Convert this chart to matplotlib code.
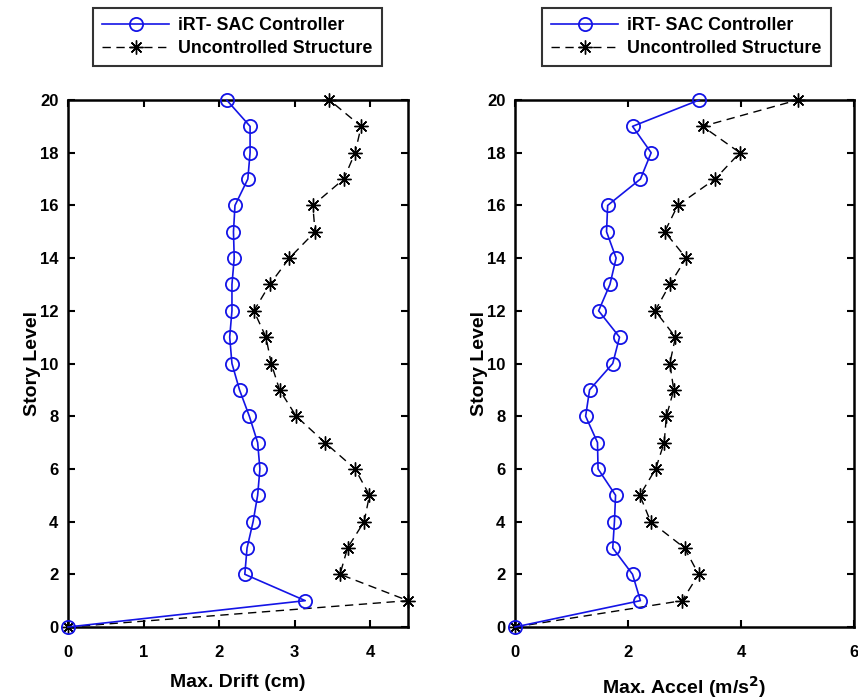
import matplotlib
matplotlib.use("Agg")
import matplotlib.pyplot as plt
import numpy as np

levels = list(range(0, 21))

drift_ctrl = [0, 3.14, 2.34, 2.37, 2.45, 2.51, 2.54, 2.51, 2.40, 2.27, 2.17,
              2.14, 2.17, 2.17, 2.20, 2.19, 2.21, 2.38, 2.41, 2.41, 2.10]
drift_unc = [0, 4.50, 3.60, 3.70, 3.92, 3.99, 3.80, 3.40, 3.02, 2.80, 2.69,
             2.62, 2.46, 2.67, 2.93, 3.27, 3.24, 3.65, 3.80, 3.88, 3.46]

acc_ctrl = [0, 2.22, 2.08, 1.73, 1.76, 1.78, 1.47, 1.46, 1.25, 1.32, 1.73,
            1.85, 1.48, 1.68, 1.79, 1.62, 1.64, 2.22, 2.41, 2.08, 3.26]
acc_unc = [0, 2.96, 3.25, 3.00, 2.40, 2.21, 2.49, 2.64, 2.68, 2.81, 2.74,
           2.84, 2.48, 2.74, 3.03, 2.65, 2.88, 3.54, 3.98, 3.32, 5.00]

y_ticks = [0, 2, 4, 6, 8, 10, 12, 14, 16, 18, 20]
x_ticks_drift = [0, 1, 2, 3, 4]
x_ticks_acc = [0, 2, 4, 6]

label_ctrl = "iRT- SAC Controller"
label_unc = "Uncontrolled Structure"

fam = ['Liberation Sans', 'DejaVu Sans']

W, H = 858, 700
fig = plt.figure(figsize=(W / 100, H / 100), dpi=100)

ax1 = fig.add_axes([68 / W, 1 - 627 / H, 340 / W, 527 / H])
ax2 = fig.add_axes([515 / W, 1 - 627 / H, 339 / W, 527 / H])

asterisk = (8, 2, 0)

def style(ax, xc, xu, xlim, xticks, xlabel):
    l1, = ax.plot(xc, levels, '-o', color='#1414e6', lw=1.2,
                  markersize=9.5, markerfacecolor='none', markeredgewidth=1.3,
                  label=label_ctrl, clip_on=False, zorder=3)
    l2, = ax.plot(xu, levels, '--', marker=asterisk, color='black', lw=1.0,
                  dashes=(6, 4), markersize=10, markeredgewidth=1.0,
                  label=label_unc, clip_on=False, zorder=2)
    ax.set_xlim(*xlim)
    ax.set_ylim(0, 20)
    ax.set_xticks(xticks)
    ax.set_yticks(y_ticks)
    ax.tick_params(direction='in', top=True, right=True, length=5, width=1.5)
    ax.tick_params(axis='x', pad=13)
    ax.tick_params(axis='y', pad=7)
    for lab in ax.get_xticklabels() + ax.get_yticklabels():
        lab.set_family(fam)
        lab.set_fontweight('bold')
        lab.set_fontsize(12)
    for s in ax.spines.values():
        s.set_linewidth(1.8)
    ax.set_xlabel(xlabel, family=fam, fontweight='bold', fontsize=14,
                  labelpad=10)
    ax.set_ylabel('Story Level', family=fam, fontweight='bold', fontsize=14,
                  labelpad=-1)
    return l1, l2

h1 = style(ax1, drift_ctrl, drift_unc, (0, 4.5), x_ticks_drift, 'Max. Drift (cm)')
h2 = style(ax2, acc_ctrl, acc_unc, (0, 6), x_ticks_acc,
           r'Max. Accel (m/s$^{\mathbf{2}}$)')

for h, x0 in [(h1, 93), (h2, 542)]:
    leg = fig.legend(h, [label_ctrl, label_unc],
                     loc='upper left', bbox_to_anchor=(x0 / W, 1 - 8 / H),
                     prop={'family': fam, 'weight': 'bold', 'size': 12.8},
                     frameon=True, fancybox=False, edgecolor='black',
                     handlelength=3.8, borderpad=0.5, labelspacing=0.35,
                     handletextpad=0.5, borderaxespad=0)
    leg.get_frame().set_linewidth(1.5)

fig.savefig('out.png', dpi=100)
